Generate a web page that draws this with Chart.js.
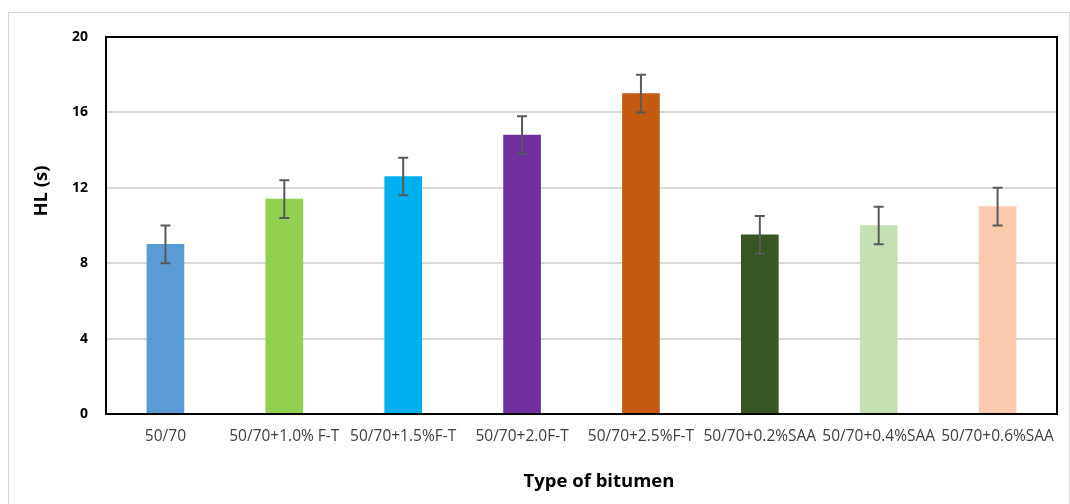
<!DOCTYPE html>
<html>
<head>
<meta charset="utf-8">
<script src="https://cdn.jsdelivr.net/npm/chart.js@4.4.1/dist/chart.umd.min.js"></script>
<style>
  html, body { margin: 0; padding: 0; background: #fff; }
  #frame { position: absolute; left: 8px; top: 12px; width: 1062px; height: 500px; border: 1px solid #d9d9d9; box-sizing: border-box; }
  #wrap { position: absolute; left: 0; top: 0; width: 1070px; height: 504px; }
</style>
</head>
<body>
<div id="frame"></div>
<div id="wrap"><canvas id="chart" width="1070" height="504"></canvas></div>
<script>
// data
var categories = ["50/70", "50/70+1.0% F-T", "50/70+1.5%F-T", "50/70+2.0F-T", "50/70+2.5%F-T",
                  "50/70+0.2%SAA", "50/70+0.4%SAA", "50/70+0.6%SAA"];
var hlValues = [9.0, 11.4, 12.6, 14.8, 17.0, 9.5, 10.0, 11.0];
var hlErrors = [1.0, 1.0, 1.0, 1.0, 1.0, 1.0, 1.0, 1.0];
var barColors = ["#5B9BD5", "#92D050", "#00B0F0", "#7030A0", "#C55A11", "#375623", "#C5E0B4", "#F8CBAD"];
var yTicks = [0, 4, 8, 12, 16, 20];
var xTitle = "Type of bitumen";
var yTitle = "HL (s)";

// error bars drawn through the scales
var errorBars = {
    id: "errorBars",
    afterDatasetsDraw: function(chart) {
        var ctx = chart.ctx;
        var yScale = chart.scales.y;
        var meta = chart.getDatasetMeta(0);
        ctx.save();
        ctx.strokeStyle = "#595959";
        ctx.lineWidth = 2;
        meta.data.forEach(function(bar, i) {
            var x = bar.x;
            var hi = yScale.getPixelForValue(hlValues[i] + hlErrors[i]);
            var lo = yScale.getPixelForValue(hlValues[i] - hlErrors[i]);
            ctx.beginPath();
            ctx.moveTo(x, hi); ctx.lineTo(x, lo);
            ctx.moveTo(x - 5, hi); ctx.lineTo(x + 5, hi);
            ctx.moveTo(x - 5, lo); ctx.lineTo(x + 5, lo);
            ctx.stroke();
        });
        ctx.restore();
    }
};

// black frame round the plot area, and the axis titles (excel centres them on the whole chart)
var plotFrame = {
    id: "plotFrame",
    afterDatasetsDraw: function(chart) {
        var a = chart.chartArea;
        var ctx = chart.ctx;
        ctx.save();
        ctx.strokeStyle = "#000";
        ctx.lineWidth = 2;
        ctx.strokeRect(a.left, a.top, a.right - a.left, a.bottom - a.top);

        ctx.fillStyle = "#000";
        ctx.font = "bold 18.5px 'Open Sans'";
        ctx.textAlign = "center";
        ctx.textBaseline = "middle";
        ctx.fillText(xTitle, 599, 482);
        ctx.translate(42, 191);
        ctx.rotate(-Math.PI / 2);
        ctx.fillText(yTitle, 0, 0);
        ctx.restore();
    }
};

new Chart(document.getElementById("chart"), {
    type: "bar",
    data: {
        labels: categories,
        datasets: [{
            data: hlValues,
            backgroundColor: barColors,
            borderWidth: 0,
            barThickness: 37
        }]
    },
    plugins: [errorBars, plotFrame],
    options: {
        responsive: false,
        animation: false,
        layout: { padding: { left: 0, right: 13, top: 37, bottom: 0 } },
        plugins: { legend: { display: false }, tooltip: { enabled: false } },
        scales: {
            x: {
                grid: { display: false, drawTicks: false },
                border: { display: false },
                ticks: {
                    color: "#404040",
                    padding: 13,
                    maxRotation: 0,
                    autoSkip: false,
                    font: { family: "'Open Sans'", size: 15.5 }
                },
                afterFit: function(scale) { scale.height = 90; }
            },
            y: {
                min: 0,
                max: 20,
                afterBuildTicks: function(scale) {
                    scale.ticks = yTicks.map(function(v) { return { value: v }; });
                },
                grid: { color: "#d9d9d9", lineWidth: 2, drawTicks: false },
                border: { display: false },
                ticks: {
                    color: "#000",
                    padding: 18,
                    font: { family: "'Open Sans'", size: 14, weight: "bold" }
                },
                afterFit: function(scale) { scale.width = 106; }
            }
        }
    }
});
</script>
</body>
</html>
